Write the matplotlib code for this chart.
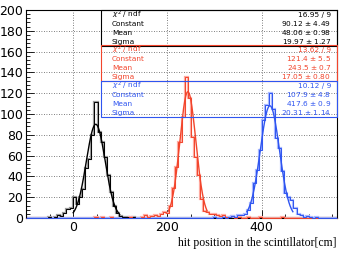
import numpy as np
import matplotlib
matplotlib.use("Agg")
from matplotlib import pyplot as plt
from matplotlib.ticker import MultipleLocator

# histogram binning: 100 bins from -100 to 560 cm
n_bins = 100
x_lo, x_hi = -100, 560

# bin contents (first bin index, counts)
black_start = 7
black_counts = [1, 0, 1, 3, 2, 5, 9, 10, 20, 13, 20, 28, 48, 57, 80, 112,
                83, 73, 59, 41, 25, 12, 5, 2, 1, 1, 0, 1]
red_start = 22
red_counts = [1, 0, 1, 0, 0, 1, 0, 0, 0, 0, 0, 1, 0, 0, 0, 1, 3, 1, 2, 3,
              2, 4, 6, 5, 12, 29, 49, 73, 97, 136, 115, 78, 59, 41, 18, 7,
              6, 4, 4, 3, 2, 3, 1, 1, 2, 0, 1, 0, 0, 1, 0, 0, 0, 1, 0, 0,
              0, 0, 0, 0, 1]
blue_start = 60
blue_counts = [1, 0, 0, 1, 0, 1, 2, 1, 3, 3, 4, 8, 14, 34, 46, 65, 94, 109,
               120, 105, 77, 67, 45, 24, 20, 17, 10, 4, 3, 1, 2, 1, 0, 1]

# gaussian fit results (from the stat boxes)
fit_names = [r"$\chi^{2}$ / ndf", "Constant", "Mean", "Sigma"]
black_fit = ["16.95 / 9", "90.12 $\\pm$ 4.49", "48.06 $\\pm$ 0.98", "19.97 $\\pm$ 1.27"]
red_fit = ["13.62 / 9", "121.4 $\\pm$ 5.5", "243.5 $\\pm$ 0.7", "17.05 $\\pm$ 0.80"]
blue_fit = ["10.12 / 9", "107.9 $\\pm$ 4.8", "417.6 $\\pm$ 0.9", "20.31 $\\pm$ 1.14"]
black_par = (90.12, 48.06, 19.97)
red_par = (121.4, 243.5, 17.05)
blue_par = (107.9, 417.6, 20.31)

c_black = "black"
c_red = "#f2452c"
c_blue = "#2f55f0"
c_red_l = "#ffaaa0"
c_blue_l = "#a8b8ff"

edges = np.linspace(x_lo, x_hi, n_bins + 1)


def full_hist(start, counts):
	h = np.zeros(n_bins)
	h[start:start + len(counts)] = counts
	return h


def gauss(x, par):
	c, m, s = par
	return c * np.exp(-0.5 * ((x - m) / s) ** 2)


fig = plt.figure(figsize=(3.44, 2.54), dpi=100)
ax = fig.add_axes([26 / 344, 1 - 218 / 254, 311 / 344, 208 / 254])

hists = [(black_start, black_counts, c_black, "#999999", black_par),
         (red_start, red_counts, c_red, c_red_l, red_par),
         (blue_start, blue_counts, c_blue, c_blue_l, blue_par)]

for start, counts, col, col_l, par in hists:
	h = full_hist(start, counts)
	ax.stairs(h, edges, color=col_l, lw=1.6, zorder=2)
	ax.stairs(h, edges, color=col, lw=0.7, zorder=3, clip_on=False)
	xf = np.linspace(par[1] - 2.4 * par[2], par[1] + 2.4 * par[2], 200)
	ax.plot(xf, gauss(xf, par), color=col, lw=1.0, zorder=4)

ax.set_xlim(x_lo, x_hi)
ax.set_ylim(0, 200)
ax.xaxis.set_major_locator(MultipleLocator(200))
ax.xaxis.set_minor_locator(MultipleLocator(50))
ax.yaxis.set_major_locator(MultipleLocator(20))
ax.yaxis.set_minor_locator(MultipleLocator(4))
ax.tick_params(which="both", direction="in", labelsize=9, pad=2)
ax.tick_params(which="major", length=6, width=0.6)
ax.tick_params(which="minor", length=3, width=0.6)
ax.grid(True, which="major", ls=(0, (1, 2)), color="#555555", lw=0.6)
for sp in ax.spines.values():
	sp.set_linewidth(0.8)

ax.set_xlabel("hit position in the scintillator[cm]", family="Liberation Serif",
              fontsize=8.5, loc="right", labelpad=2)

# stat boxes
box_x0 = (101 - 26) / 311
box_tops = [1.0, (218 - 45) / 208, (218 - 81) / 208]
box_h = 36 / 208
for (vals, col), top in zip([(black_fit, c_black), (red_fit, c_red), (blue_fit, c_blue)], box_tops):
	rect = plt.Rectangle((box_x0, top - box_h), 1 - box_x0, box_h, transform=ax.transAxes,
	                     fill=False, ec=col, lw=0.8, zorder=5, clip_on=False)
	ax.add_patch(rect)
	for i, (name, v) in enumerate(zip(fit_names, vals)):
		y = top - box_h * (i + 0.55) / 4
		ax.text(0.2765, y, name, transform=ax.transAxes, fontsize=5.3, color=col,
		        va="center", ha="left", zorder=6)
		ax.text(0.981, y, v, transform=ax.transAxes, fontsize=5.3, color=col,
		        va="center", ha="right", zorder=6)

fig.savefig("out.png", dpi=100)
